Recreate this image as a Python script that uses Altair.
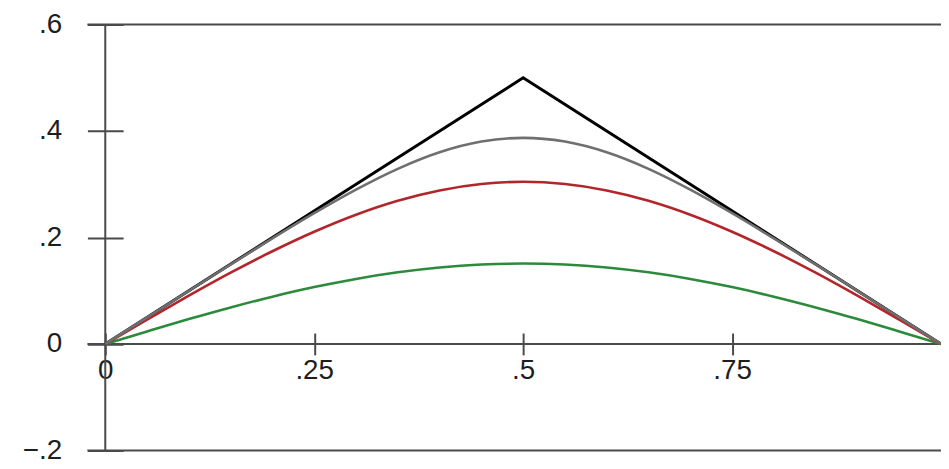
import altair as alt
import pandas as pd

# x positions along the unit interval
xs = [0.0, 0.05, 0.1, 0.15, 0.2, 0.25, 0.3, 0.35, 0.4, 0.45, 0.5,
      0.55, 0.6, 0.65, 0.7, 0.75, 0.8, 0.85, 0.9, 0.95, 1.0]
gray_y = [0.0, 0.0499, 0.0998, 0.1494, 0.1983, 0.2456, 0.2899, 0.3290, 0.3601, 0.3802, 0.3872,
          0.3802, 0.3601, 0.3290, 0.2899, 0.2456, 0.1983, 0.1494, 0.0998, 0.0499, 0.0]
red_y = [0.0, 0.0457, 0.0906, 0.1338, 0.1742, 0.2109, 0.2429, 0.2691, 0.2885, 0.3005, 0.3046,
         0.3005, 0.2885, 0.2691, 0.2429, 0.2109, 0.1742, 0.1338, 0.0906, 0.0457, 0.0]
green_y = [0.0, 0.0236, 0.0467, 0.0686, 0.0888, 0.1068, 0.1222, 0.1346, 0.1437, 0.1492, 0.1510,
           0.1492, 0.1437, 0.1346, 0.1222, 0.1068, 0.0888, 0.0686, 0.0467, 0.0236, 0.0]
black_x = [0.0, 0.5, 1.0]
black_y = [0.0, 0.5, 0.0]

x_ticks = [0, 0.25, 0.5, 0.75]
y_ticks = [-0.2, 0, 0.2, 0.4, 0.6]
full_lines = [0.6, 0.0, -0.2]

series_names = ["green", "red", "gray", "black"]
series_colors = ["#2c8a3c", "#b2262b", "#6f6f6f", "#000000"]

rows = []
for i, x in enumerate(xs):
    rows.append({"x": x, "y": green_y[i], "s": "green", "o": i})
    rows.append({"x": x, "y": red_y[i], "s": "red", "o": i})
    rows.append({"x": x, "y": gray_y[i], "s": "gray", "o": i})
df = pd.DataFrame(rows)
dfb = pd.DataFrame({"x": black_x, "y": black_y, "s": ["black"] * 3, "o": [0, 1, 2]})

W, H = 842, 429
TOP = 15
FONT = "Liberation Sans"
AXC = "#4a4a4a"
LABC = "#1e1e1e"
FS = 28

lab = ("datum.value == 0 ? '0' : (datum.value < 0 ? '\u2212' + substring(format(-datum.value, '~g'), 1)"
       " : substring(format(datum.value, '~g'), 1))")

xenc = alt.X("x:Q", scale=alt.Scale(domain=[0, 1], nice=False, zero=False),
             axis=alt.Axis(values=x_ticks, labelExpr=lab, offset=-(H * 0.25 + 11), tickSize=22,
                           tickColor=AXC, tickWidth=2, domain=False, grid=False, title=None,
                           labelFont=FONT, labelFontSize=FS, labelColor=LABC,
                           labelPadding=2, labelFlush=False, labelOverlap=False))
yenc = alt.Y("y:Q", scale=alt.Scale(domain=[-0.2, 0.6], nice=False, zero=False),
             axis=alt.Axis(values=y_ticks, labelExpr=lab, offset=-18, tickSize=36,
                           tickColor=AXC, tickWidth=2, domain=False, grid=False, title=None,
                           labelFont=FONT, labelFontSize=FS, labelColor=LABC,
                           labelPadding=26, labelFlush=False, labelOverlap=False))

colscale = alt.Scale(domain=series_names, range=series_colors)

hl = pd.DataFrame({"y": full_lines})
hrules = alt.Chart(hl).mark_rule(color=AXC, strokeWidth=2).encode(
    y=alt.Y("y:Q"), x=alt.value(-18), x2=alt.value(W))

vl = pd.DataFrame({"x": [0.0], "y": [-0.2], "y2": [0.6]})
vrule = alt.Chart(vl).mark_rule(color=AXC, strokeWidth=2).encode(
    x=alt.X("x:Q"), y=alt.Y("y:Q"), y2="y2:Q")

curves = alt.Chart(df).mark_line(strokeWidth=2.6, interpolate="monotone").encode(
    x=xenc, y=yenc,
    color=alt.Color("s:N", scale=colscale, legend=None),
    order="o:Q",
    detail="s:N",
)

black = alt.Chart(dfb).mark_line(strokeWidth=3, interpolate="linear").encode(
    x=xenc, y=yenc,
    color=alt.Color("s:N", scale=colscale, legend=None),
    order="o:Q",
)

chart = alt.layer(hrules, vrule, black, curves).properties(
    width=W, height=H,
    autosize=alt.AutoSizeParams(type="none"),
    padding={"left": 98, "top": TOP, "right": 0, "bottom": 15},
).configure_view(stroke=None)

chart.save("out.html", embed_options={"renderer": "svg", "actions": False})
